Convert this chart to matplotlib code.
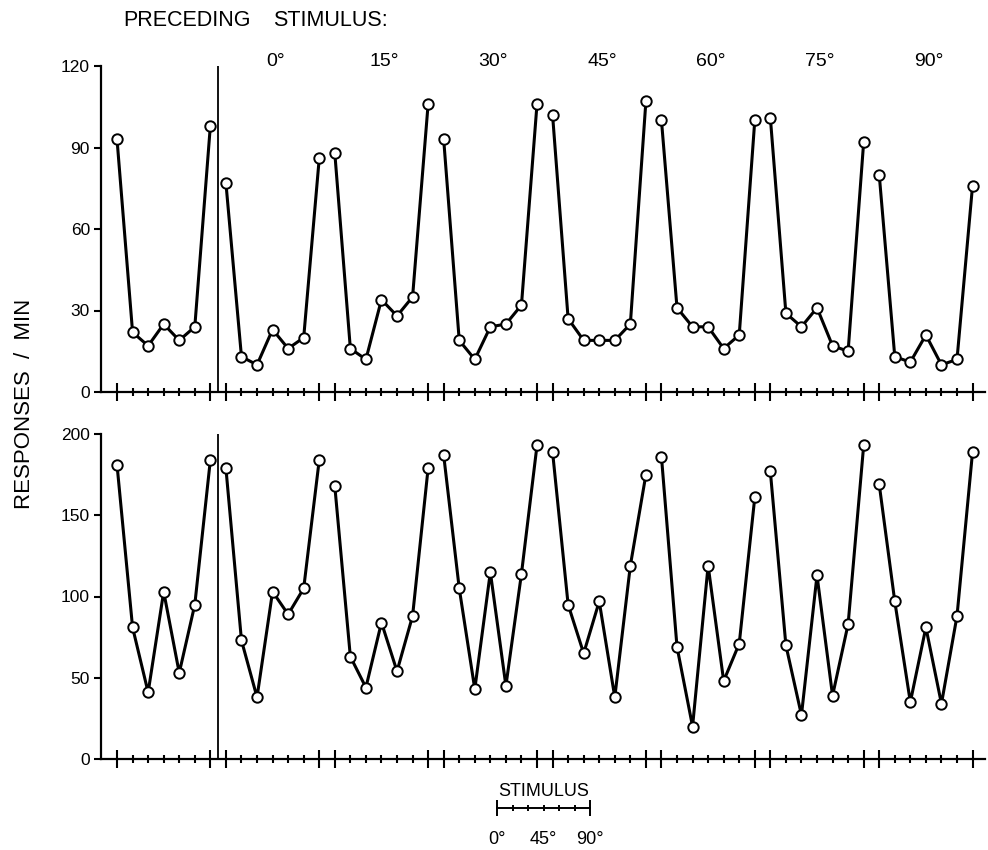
import matplotlib.pyplot as plt
from matplotlib import transforms

plt.rcParams['font.family'] = ['Liberation Sans', 'DejaVu Sans']

preceding = ['', '0°', '15°', '30°', '45°', '60°', '75°', '90°']
stimuli = [0, 15, 30, 45, 60, 75, 90]

# responses/min for each test stimulus, one row per preceding stimulus
upper = [
    [93, 22, 17, 25, 19, 24, 98],
    [77, 13, 10, 23, 16, 20, 86],
    [88, 16, 12, 34, 28, 35, 106],
    [93, 19, 12, 24, 25, 32, 106],
    [102, 27, 19, 19, 19, 25, 107],
    [100, 31, 24, 24, 16, 21, 100],
    [101, 29, 24, 31, 17, 15, 92],
    [80, 13, 11, 21, 10, 12, 76],
]
lower = [
    [181, 81, 41, 103, 53, 95, 184],
    [179, 73, 38, 103, 89, 105, 184],
    [168, 63, 44, 84, 54, 88, 179],
    [187, 105, 43, 115, 45, 114, 193],
    [189, 95, 65, 97, 38, 119, 175],
    [186, 69, 20, 119, 48, 71, 161],
    [177, 70, 27, 113, 39, 83, 193],
    [169, 97, 35, 81, 34, 88, 189],
]

W, H = 988, 850
fig = plt.figure(figsize=(W / 100, H / 100), dpi=100)


def px_axes(left, right, top, bottom):
    return fig.add_axes([left / W, 1 - bottom / H, (right - left) / W, (bottom - top) / H])


n = len(stimuli)
ends = [g * n for g in range(len(preceding))] + [g * n + n - 1 for g in range(len(preceding))]
minors = [i for i in range(n * len(preceding)) if i not in ends]


def draw_panel(ax, data, ymax, yticks):
    for g, row in enumerate(data):
        xs = [g * n + j for j in range(n)]
        ax.plot(xs, row, color='black', lw=2.2, marker='o', ms=7.5,
                mfc='white', mec='black', mew=1.4, zorder=3, clip_on=False)
    ax.set_xlim(-1.03, 55.8)
    ax.set_ylim(0, ymax)
    ax.set_yticks(yticks)
    ax.set_xticks(sorted(ends))
    ax.set_xticks(minors, minor=True)
    ax.set_xticklabels([])
    for s in ['top', 'right']:
        ax.spines[s].set_visible(False)
    for s in ['left', 'bottom']:
        ax.spines[s].set_linewidth(1.6)
    ax.tick_params(axis='x', which='major', direction='inout', length=13, width=1.5)
    ax.tick_params(axis='x', which='minor', direction='inout', length=6, width=1.5)
    ax.tick_params(axis='y', direction='out', length=5, width=1.5, labelsize=12.5, pad=3)
    ax.axvline(n - 0.5, color='black', lw=1.3, zorder=2)


ax1 = px_axes(101, 985, 66, 392)
draw_panel(ax1, upper, 120, [0, 30, 60, 90, 120])
ax2 = px_axes(101, 985, 434, 759)
draw_panel(ax2, lower, 200, [0, 50, 100, 150, 200])

# preceding-stimulus labels along the top
trans = transforms.blended_transform_factory(ax1.transData, fig.transFigure)
for g, lab in enumerate(preceding):
    if lab:
        ax1.text(g * n + (n - 1) / 2 + 0.2, 1 - 61 / H, lab, transform=trans,
                 ha='center', va='center', fontsize=14)
fig.text(123 / W, 1 - 20 / H, 'PRECEDING', ha='left', va='center', fontsize=15.5)
fig.text(273 / W, 1 - 20 / H, 'STIMULUS:', ha='left', va='center', fontsize=15.5)

fig.text(25 / W, 1 - 404 / H, 'RESPONSES  /  MIN', rotation=90, ha='center', va='center', fontsize=16)

# small stimulus scale
axs = fig.add_axes([497 / W, 1 - 808 / H, 93 / W, 0.001])
axs.set_xlim(0, 90)
axs.set_ylim(0, 1)
for s in ['top', 'right', 'left']:
    axs.spines[s].set_visible(False)
axs.spines['bottom'].set_linewidth(1.4)
axs.set_yticks([])
axs.set_xticks([stimuli[0], stimuli[-1]])
axs.set_xticks(stimuli[1:-1], minor=True)
axs.set_xticklabels([])
axs.tick_params(axis='x', which='major', direction='inout', length=11, width=1.4)
axs.tick_params(axis='x', which='minor', direction='inout', length=5, width=1.4)
strans = transforms.blended_transform_factory(axs.transData, fig.transFigure)
for v in [0, 45, 90]:
    axs.text(v, 1 - 840 / H, f'{v}°', transform=strans, ha='center', va='center', fontsize=13)
axs.text(45, 1 - 791 / H, 'STIMULUS', transform=strans, ha='center', va='center', fontsize=13)

fig.savefig('out.png', dpi=100)
